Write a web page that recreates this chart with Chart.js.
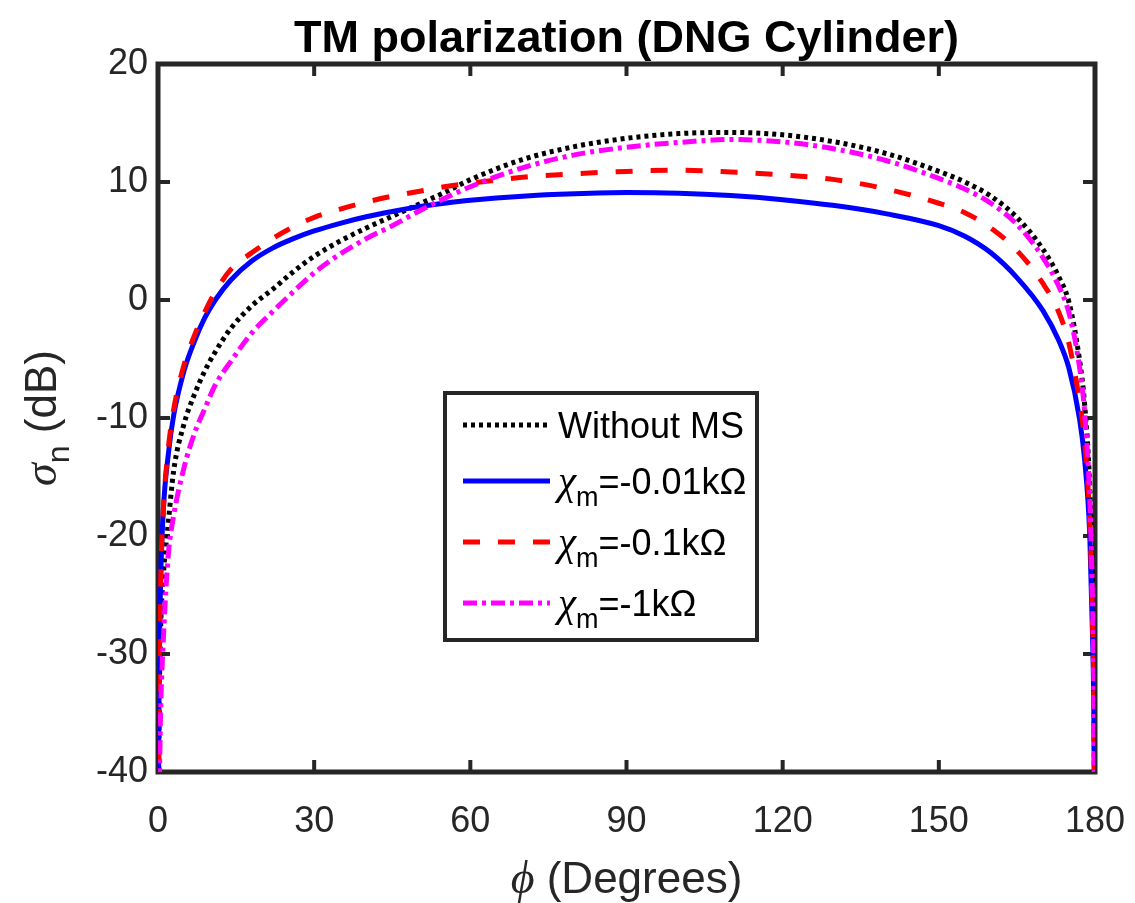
<!DOCTYPE html>
<html>
<head>
<meta charset="utf-8">
<script src="https://cdn.jsdelivr.net/npm/chart.js@4.4.1/dist/chart.umd.min.js"></script>
<style>
  html, body { margin: 0; padding: 0; background: #fff; }
  #wrap { width: 1135px; height: 903px; }
</style>
</head>
<body>
<div id="wrap"><canvas id="rcsChart" width="1135" height="903"></canvas></div>
<script>
// phi in degrees, shared by all curves
const phiDeg = [0.05, 0.2, 0.5, 1, 2, 3, 5, 7, 9, 11, 14, 18, 22, 26, 30, 35, 40, 45, 50, 55, 60,
  70, 80, 90, 100, 110, 120, 130, 140, 150, 155, 160, 165, 170, 173, 175, 177, 178, 179, 179.5, 179.8, 179.95];

// sigma_n in dB
const withoutMS = [-48, -36, -28, -23.5, -18.8, -14.5, -10.5, -8, -6, -4.4, -2.4, -0.5, 0.9, 2.4, 3.7, 5.0, 6.1, 7.1, 8.1, 9.1, 10.2,
  11.9, 13.0, 13.7, 14.1, 14.2, 14.0, 13.4, 12.4, 10.9, 10.0, 8.8, 7.0, 4.3, 2.0, -0.2, -5.0, -8.8, -16, -24, -33, -48];
const chi001 = [-48, -33, -24, -18, -13, -9.8, -6, -3.5, -1.5, 0, 1.7, 3.3, 4.4, 5.2, 5.85, 6.5, 7.05, 7.5, 7.9, 8.2, 8.45,
  8.8, 9.0, 9.1, 9.05, 8.85, 8.5, 8.0, 7.3, 6.3, 5.4, 4.0, 1.9, -0.9, -3.4, -5.8, -10, -13.5, -20, -28, -36, -48];
const chi01 = [-48, -33, -24, -18, -12.5, -9.3, -5.5, -3, -1.0, 0.7, 2.6, 4.0, 5.2, 6.2, 7.0, 7.7, 8.3, 8.8, 9.2, 9.6, 9.9,
  10.4, 10.7, 10.9, 11.0, 10.85, 10.6, 10.2, 9.4, 8.2, 7.4, 6.1, 4.2, 1.4, -1.0, -3.7, -8.5, -12, -19, -27, -35, -48];
const chi1 = [-48, -43, -35, -29, -21.5, -18.3, -14.2, -11.3, -9.2, -7.2, -5.2, -2.8, -1.0, 0.7, 2.3, 3.9, 5.2, 6.3, 7.5, 8.6, 9.6,
  11.2, 12.3, 12.95, 13.35, 13.6, 13.4, 12.8, 11.8, 10.3, 9.4, 8.2, 6.4, 3.6, 1.2, -1.1, -5.6, -9.5, -17, -25, -34, -48];

const seriesLabels = ["Without MS", "χ_m=-0.01kΩ", "χ_m=-0.1kΩ", "χ_m=-1kΩ"];
const xTicks = [0, 30, 60, 90, 120, 150, 180];
const yTicks = [-40, -30, -20, -10, 0, 10, 20];

const AXIS = "#262626";
const SANS = "'Liberation Sans', Arial, sans-serif";
const SERIF_I = "italic 46px 'Liberation Serif', 'DejaVu Serif', serif";

const toPoints = (ys) => ys.map((v, i) => ({ x: phiDeg[i], y: v }));

// draws a row of text pieces; align 'center' or 'left'
const drawRich = (ctx, parts, x, y, align) => {
  let total = 0;
  parts.forEach((p) => { ctx.font = p.font; p.w = ctx.measureText(p.text).width; total += p.w; });
  let cx = align === "center" ? x - total / 2 : x;
  ctx.textAlign = "left";
  ctx.textBaseline = "alphabetic";
  parts.forEach((p) => { ctx.font = p.font; ctx.fillText(p.text, cx, y + (p.dy || 0)); cx += p.w; });
};

const labelParts = (label, size) => {
  if (label.indexOf("_") < 0) return [{ text: label, font: `${size}px ${SANS}` }];
  const [greek, rest] = label.split("_");
  return [
    { text: greek, font: `italic ${Math.round(size * 1.15)}px 'Liberation Serif', 'DejaVu Serif', serif` },
    { text: rest[0], font: `${Math.round(size * 0.75)}px ${SANS}`, dy: 12 },
    { text: rest.slice(1), font: `${size}px ${SANS}` },
  ];
};

const framePlugin = {
  id: "frame",
  beforeDatasetsDraw(chart) {
    const { ctx, chartArea: a, scales: { x, y } } = chart;
    ctx.save();
    ctx.strokeStyle = AXIS;
    ctx.lineWidth = 4;
    xTicks.forEach((v) => {
      const px = x.getPixelForValue(v);
      ctx.beginPath();
      ctx.moveTo(px, a.bottom); ctx.lineTo(px, a.bottom - 12);
      ctx.moveTo(px, a.top); ctx.lineTo(px, a.top + 12);
      ctx.stroke();
    });
    yTicks.forEach((v) => {
      const py = y.getPixelForValue(v);
      ctx.beginPath();
      ctx.moveTo(a.left, py); ctx.lineTo(a.left + 12, py);
      ctx.moveTo(a.right, py); ctx.lineTo(a.right - 12, py);
      ctx.stroke();
    });
    ctx.lineWidth = 5;
    ctx.strokeRect(a.left, a.top, a.right - a.left, a.bottom - a.top);
    ctx.restore();
  },
  afterDraw(chart) {
    const { ctx, chartArea: a } = chart;
    const mid = (a.left + a.right) / 2;
    ctx.save();
    // title
    ctx.fillStyle = "#000";
    drawRich(ctx, [{ text: "TM polarization (DNG Cylinder)", font: `bold 45px ${SANS}` }], mid, 52, "center");
    // x label
    ctx.fillStyle = AXIS;
    drawRich(ctx, [
      { text: "ϕ", font: SERIF_I },
      { text: " (Degrees)", font: `44px ${SANS}` },
    ], mid, 893, "center");
    // y label
    ctx.translate(56, (a.top + a.bottom) / 2);
    ctx.rotate(-Math.PI / 2);
    drawRich(ctx, [
      { text: "σ", font: SERIF_I },
      { text: "n", font: `32px ${SANS}`, dy: 13 },
      { text: " (dB)", font: `44px ${SANS}` },
    ], 0, 0, "center");
    ctx.restore();

    // legend box
    const box = { left: 445, top: 393, right: 757, bottom: 640 };
    const rowY = [425, 481, 542, 603];
    ctx.save();
    ctx.fillStyle = "#fff";
    ctx.fillRect(box.left, box.top, box.right - box.left, box.bottom - box.top);
    ctx.strokeStyle = AXIS;
    ctx.lineWidth = 4;
    ctx.strokeRect(box.left, box.top, box.right - box.left, box.bottom - box.top);
    chart.data.datasets.forEach((ds, i) => {
      ctx.beginPath();
      ctx.strokeStyle = ds.borderColor;
      ctx.lineWidth = ds.borderWidth;
      ctx.setLineDash(ds.borderDash || []);
      ctx.moveTo(463, rowY[i]);
      ctx.lineTo(550, rowY[i]);
      ctx.stroke();
      ctx.setLineDash([]);
      ctx.fillStyle = "#000";
      drawRich(ctx, labelParts(ds.label, 36), 558, rowY[i] + 13, "left");
    });
    ctx.restore();
  },
};

const makeSet = (label, ys, color, width, dash, order) => ({
  label: label,
  data: toPoints(ys),
  borderColor: color,
  borderWidth: width,
  borderDash: dash,
  borderCapStyle: "butt",
  pointRadius: 0,
  cubicInterpolationMode: "monotone",
  fill: false,
  order: order,
});

const chart = new Chart(document.getElementById("rcsChart"), {
  type: "line",
  data: {
    datasets: [
      makeSet(seriesLabels[0], withoutMS, "#000000", 5, [4, 4], 4),
      makeSet(seriesLabels[1], chi001, "#0000ff", 5, [], 3),
      makeSet(seriesLabels[2], chi01, "#ff0000", 5, [17, 18], 2),
      makeSet(seriesLabels[3], chi1, "#ff00ff", 5, [14, 5, 4, 5], 1),
    ],
  },
  options: {
    responsive: false,
    animation: false,
    devicePixelRatio: 1,
    layout: { padding: { top: 64, right: 40, left: 0, bottom: 0 } },
    plugins: { legend: { display: false }, tooltip: { enabled: false }, title: { display: false } },
    scales: {
      x: {
        type: "linear",
        min: 0,
        max: 180,
        afterBuildTicks: (s) => { s.ticks = xTicks.map((v) => ({ value: v })); },
        afterFit: (s) => { s.height = 131; s.paddingLeft = 0; s.paddingRight = 0; },
        grid: { display: false, drawTicks: false },
        border: { display: false },
        ticks: { color: AXIS, font: { family: SANS, size: 36 }, padding: 28, maxRotation: 0 },
      },
      y: {
        type: "linear",
        min: -40,
        max: 20,
        afterBuildTicks: (s) => { s.ticks = yTicks.map((v) => ({ value: v })); },
        afterFit: (s) => { s.width = 158; s.paddingTop = 0; s.paddingBottom = 0; },
        grid: { display: false, drawTicks: false },
        border: { display: false },
        ticks: { color: AXIS, font: { family: SANS, size: 36 }, padding: 10 },
      },
    },
  },
  plugins: [framePlugin],
});
</script>
</body>
</html>
